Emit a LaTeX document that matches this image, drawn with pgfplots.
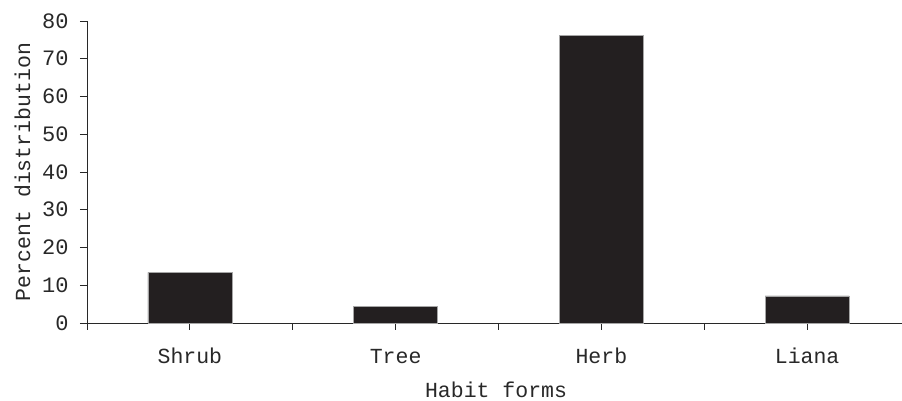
\documentclass[border=0pt]{standalone}
\usepackage{pgfplots}
\pgfplotsset{compat=1.18}
\usepackage{fontspec}
\setmainfont{Liberation Mono}
\definecolor{barc}{RGB}{35,31,32}
\definecolor{axc}{RGB}{40,40,40}
\begin{document}
\begin{tikzpicture}
\begin{axis}[
  name=ax,
  scale only axis,
  width=823bp, height=302bp,
  xmin=-0.5, xmax=3.5,
  ymin=0, ymax=80,
  axis x line*=bottom, axis y line*=left,
  axis line style={axc, line width=0.9bp},
  every tick/.style={axc, line width=0.9bp},
  tick align=outside,
  major tick length=7bp,
  xtick={0,1,2,3},
  xticklabels={Shrub,Tree,Herb,Liana},
  extra x ticks={-0.5,0.5,1.5,2.5,3.5},
  extra x tick labels={},
  ytick={0,10,...,80},
  /pgf/number format/assume math mode=true,
  xticklabel style={font=\fontsize{21.5bp}{24bp}\selectfont, text=axc, anchor=base, yshift=-34bp},
  yticklabel style={font=\fontsize{22bp}{24bp}\selectfont, text=axc, xshift=-8bp},
  label style={font=\fontsize{21.5bp}{24bp}\selectfont, text=axc},
  xlabel={Habit forms},
  ylabel={Percent distribution},
  ylabel style={at={(rel axis cs:-0.0784,0.5)}, anchor=center},
  xlabel style={at={(rel axis cs:0.497,-0.222)}, anchor=center},
  clip=false,
]
\addplot[ybar, bar width=84bp, fill=barc, draw=gray!70, line width=0.4bp]
  coordinates {(0,13.4) (1,4.5) (2,76.2) (3,7.2)};
\end{axis}
\pgfresetboundingbox
\path[use as bounding box] ([xshift=-87bp,yshift=-78bp]ax.south west) rectangle ([xshift=-8bp,yshift=21bp]ax.north east);
\end{tikzpicture}
\end{document}
